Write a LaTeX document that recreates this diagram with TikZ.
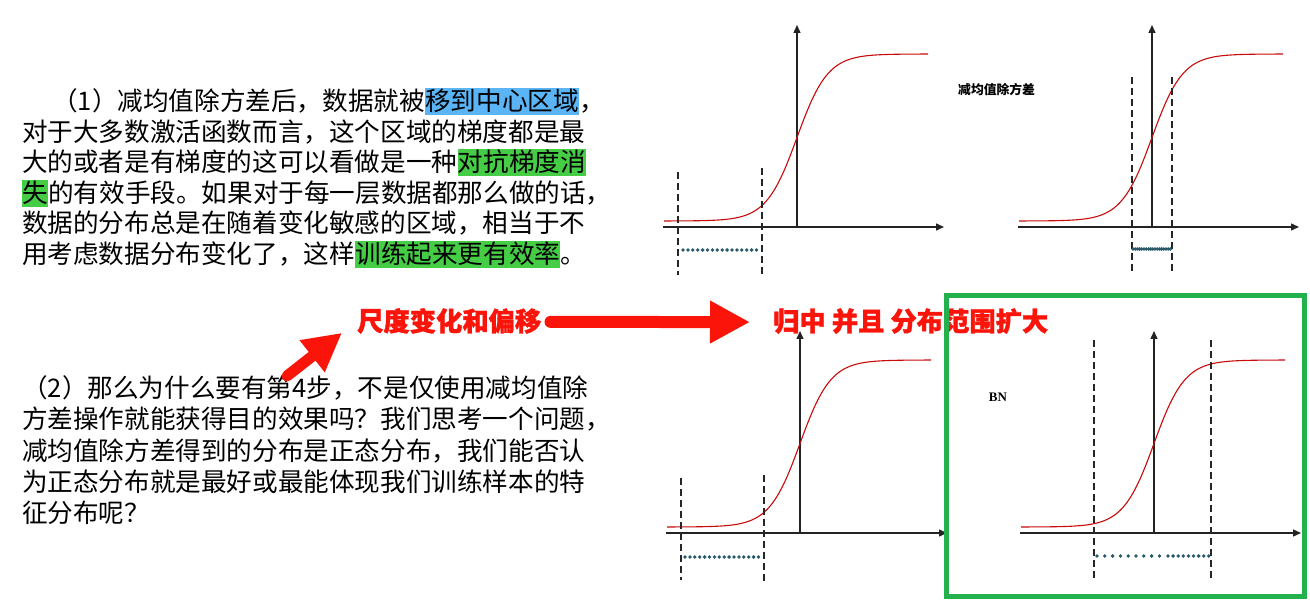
\documentclass[tikz,border=0pt]{standalone}
\usepackage{fontspec}
\setmainfont{Noto Sans CJK SC}
\newfontfamily\lserif{Liberation Serif}
\newfontfamily\redfont[BoldFeatures={FakeBold=1.3}]{Noto Sans CJK SC}
\usetikzlibrary{arrows.meta}
\definecolor{hlblue}{RGB}{90,180,245}
\definecolor{hlgreen}{RGB}{70,205,70}
\definecolor{redlbl}{RGB}{250,20,10}
\definecolor{tealdot}{RGB}{42,90,105}
\definecolor{boxgreen}{RGB}{34,177,76}
\definecolor{curvered}{RGB}{200,10,10}
\definecolor{axisgray}{RGB}{35,35,35}
\tikzset{
  txt/.style={anchor=base west, inner sep=0pt, font=\fontsize{25.6}{30}\selectfont, text=black},
  hlb/.style={txt, fill=hlblue, text height=22.5pt, text depth=4.5pt},
  hlg/.style={txt, fill=hlgreen, text height=22.5pt, text depth=4.5pt},
  lbl/.style={anchor=base west, inner sep=0pt, font=\redfont\fontsize{26.3}{26}\selectfont\bfseries, text=redlbl},
  bigarrow/.style={draw=redlbl, line width=12pt, line cap=round, -{Triangle[length=40pt,width=40pt]}},
  diagarrow/.style={draw=redlbl, line width=11pt, line cap=round, -{Triangle[length=38pt,width=38pt]}},
  axis/.style={draw=axisgray, line width=1.4pt, -{Triangle[length=8pt,width=7pt]}},
  curve/.style={draw=curvered, line width=1.1pt},
  vdash/.style={draw=black!85, line width=1.2pt, dash pattern=on 7pt off 4pt},
  dotrow/.style={draw=tealdot, line width=3.8pt, line cap=round, dash pattern=on 0pt off 4.9pt},
  sigpanel/.pic={
    \draw[axis] (-134,0) -- (147,0);
    \draw[axis] (0,0) -- (0,-202);
    \draw[curve] plot[domain=-133:131, samples=140, smooth] (\x,{-89.5-83.5*tanh(0.0325*\x)});
  }
}
\begin{document}
\begin{tikzpicture}[x=1pt,y=-1pt]
\useasboundingbox (0,0) rectangle (1310,601);
\fill[white] (0,0) rectangle (1310,601);

% ---- paragraph 1 ----
\node[txt] (p1a) at (52,110.7) {（1）减均值除方差后，数据就被};
\node[hlb] (p1b) at (p1a.base east) {移到中心区域};
\node[txt] (p1c) at (p1b.base east) {，};
\node[txt] (p2a) at (22,141.2) {对于大多数激活函数而言，这个区域的梯度都是最};
\node[txt] (p3a) at (22,171.7) {大的或者是有梯度的这可以看做是一种};
\node[hlg] (p3b) at (p3a.base east) {对抗梯度消};
\node[hlg] (p4a) at (22,202.2) {失};
\node[txt] (p4b) at (p4a.base east) {的有效手段。如果对于每一层数据都那么做的话，};
\node[txt] (p5a) at (22,232.7) {数据的分布总是在随着变化敏感的区域，相当于不};
\node[txt] (p6a) at (22,263.2) {用考虑数据分布变化了，这样};
\node[hlg] (p6b) at (p6a.base east) {训练起来更有效率};
\node[txt] (p6c) at (p6b.base east) {。};

% ---- paragraph 2 ----
\node[txt] (q1) at (22,397.7) {（2）那么为什么要有第4步，不是仅使用减均值除};
\node[txt] (q2) at (22,428.9) {方差操作就能获得目的效果吗？我们思考一个问题，};
\node[txt] (q3) at (22,460.2) {减均值除方差得到的分布是正态分布，我们能否认};
\node[txt] (q4) at (22,491.4) {为正态分布就是最好或最能体现我们训练样本的特};
\node[txt] (q5) at (22,522.7) {征分布呢？};

% ---- graphs ----
\pic at (797,227) {sigpanel};
\pic at (1152,227) {sigpanel};
\pic at (800,533) {sigpanel};
\pic at (1154,533) {sigpanel};

% top-left
\draw[vdash] (678,172) -- (678,275);
\draw[vdash] (762,168) -- (762,277);
\draw[dotrow] (683,250) -- (757,250);
% top-right
\draw[vdash] (1132,77) -- (1132,273);
\draw[vdash] (1172,77) -- (1172,273);
\draw[dotrow, dash pattern=on 0pt off 2.2pt] (1133,249) -- (1171,249);
\node[anchor=west, inner sep=0pt, font=\fontsize{12.8}{13}\selectfont\bfseries] (lab1) at (958,90) {减均值除方差};
% bottom-left
\draw[vdash] (681,478) -- (681,580);
\draw[vdash] (764,475) -- (764,583);
\draw[dotrow] (685,557) -- (759,557);
% bottom-right
\draw[vdash] (1094,340) -- (1094,578);
\draw[vdash] (1211,340) -- (1211,578);
\draw[dotrow, dash pattern=on 0pt off 7.8pt] (1097,556) -- (1160,556);
\draw[dotrow, dash pattern=on 0pt off 5.1pt] (1168,556) -- (1209,556);
\node[anchor=center, inner sep=0pt, font=\lserif\fontsize{13}{13}\selectfont\bfseries] (lab2) at (998,397) {BN};

% ---- red labels and arrows ----
\node[lbl] (l1) at (357,331) {尺度变化和偏移};
\node[lbl] (l2) at (773,331) {归中 并且 分布范围扩大};
\draw[bigarrow] ([xshift=9pt,yshift=-1pt]l1.east) -- ([xshift=-23pt,yshift=-1pt]l2.west);
\coordinate (ds) at (287,376);
\draw[diagarrow] (ds) -- ([xshift=-15pt,yshift=1pt]l1.south west);

% ---- green frame ----
\draw[draw=boxgreen, line width=5pt] (946,296) rectangle (1304.5,596);
\end{tikzpicture}
\end{document}
